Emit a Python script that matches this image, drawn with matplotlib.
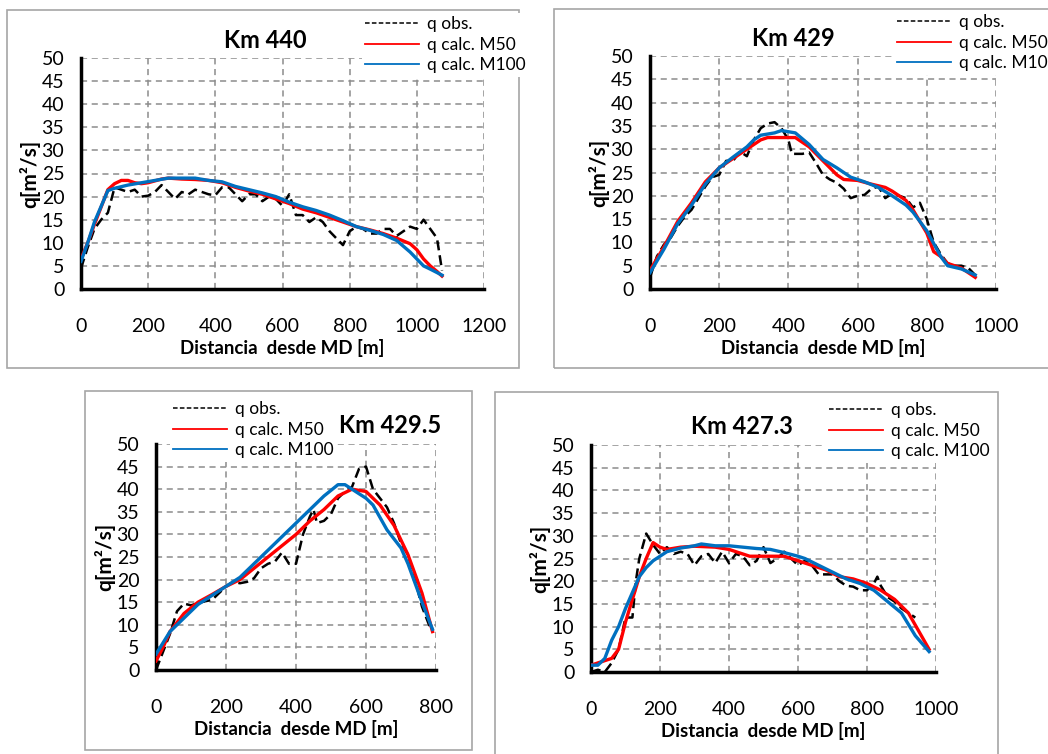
import numpy as np
import matplotlib.pyplot as plt
from matplotlib.lines import Line2D
from matplotlib.patches import Rectangle

plt.rcParams['font.family'] = ['Lato', 'DejaVu Sans']

# --- Km 440 ---
x440_obs = [0, 20, 40, 60, 80, 100, 120, 140, 160, 180, 200, 220, 240, 260, 280, 300, 320, 340,
            360, 380, 400, 420, 440, 460, 480, 500, 520, 540, 560, 580, 600, 620, 640, 660, 680,
            700, 720, 740, 760, 780, 800, 820, 840, 860, 880, 900, 920, 940, 960, 980, 1000, 1020,
            1040, 1060, 1075]
q440_obs = [4.5, 9, 13, 15, 16.5, 22, 21.5, 21, 21.5, 20, 20.2, 21, 22.5, 21, 19.5, 21, 20.5, 21.5,
            21, 20.5, 20.3, 22, 22, 20.5, 19, 20.5, 20.5, 19, 20, 19.5, 18, 20.5, 16, 16, 14.5,
            15.5, 14.5, 12.5, 11, 9.5, 12.5, 13.5, 13, 12, 12, 13, 13, 11.5, 12.5, 13.5, 13, 15,
            13, 11, 4]
x440_m50 = [0, 20, 40, 80, 100, 120, 140, 160, 180, 200, 240, 260, 300, 340, 380, 420, 460, 500,
            540, 580, 620, 660, 700, 740, 780, 820, 860, 900, 940, 980, 1000, 1020, 1040, 1060, 1075]
q440_m50 = [6.5, 10, 14, 21.5, 22.8, 23.5, 23.5, 23, 22.8, 23, 23.8, 24, 23.8, 23.7, 23.5, 23, 22,
            21.2, 20.5, 19.5, 18.5, 17.3, 16.5, 15.5, 14.5, 13.5, 12.8, 12, 11, 9.8, 8.5, 6.5, 5,
            3.8, 2.8]
x440_m100 = [0, 20, 40, 80, 100, 140, 180, 220, 260, 300, 340, 380, 420, 460, 500, 540, 580, 620,
             660, 700, 740, 780, 820, 860, 900, 940, 980, 1000, 1020, 1040, 1075]
q440_m100 = [6, 10, 14.5, 21.3, 21.8, 22.5, 23, 23.5, 24, 24, 24, 23.5, 23.2, 22.2, 21.5, 20.8, 20,
             18.8, 17.8, 17, 16, 14.8, 13.5, 12.7, 11.8, 10.5, 8, 6.5, 5, 4.3, 3]

# --- Km 429 ---
x429_obs = [0, 20, 40, 60, 80, 100, 120, 140, 160, 180, 200, 220, 240, 260, 280, 300, 320, 340,
            360, 380, 400, 410, 440, 460, 480, 500, 520, 540, 560, 580, 600, 620, 640, 660, 680,
            700, 720, 740, 760, 780, 800, 820, 840, 860, 880, 900, 920, 940]
q429_obs = [2.5, 7, 9.5, 11, 13.5, 15.5, 17, 19.5, 22, 24, 24.5, 27.5, 27.5, 29.5, 28.5, 32, 34.5,
            35.5, 35.8, 34.5, 32, 29, 29, 29.3, 27, 24.5, 23.5, 22.8, 21.5, 19.5, 20, 20.2, 21.5,
            22, 19.5, 20.5, 20, 19.5, 17.5, 18.5, 15, 10, 7.5, 5.5, 5, 5, 4.5, 3]
x429_m50 = [0, 40, 80, 120, 160, 200, 240, 280, 320, 340, 400, 420, 460, 500, 540, 560, 600, 640,
            680, 700, 740, 760, 800, 820, 840, 860, 900, 940]
q429_m50 = [4, 9, 14.5, 18.5, 23, 26, 28, 30, 32, 32.5, 32.5, 32.5, 30.5, 27.5, 24.5, 23.5, 23.3,
            22.5, 21.8, 21, 19, 17, 12, 8, 7, 5.5, 4.5, 2.5]
x429_m100 = [0, 40, 80, 120, 160, 200, 240, 280, 300, 320, 360, 380, 420, 460, 500, 540, 580, 620,
             660, 700, 740, 760, 800, 840, 860, 900, 940]
q429_m100 = [3.5, 8.5, 14, 18, 22.5, 26, 28.3, 30.5, 32, 33, 33.5, 34, 33.5, 31, 27.8, 26, 24, 23,
             21.8, 20, 18, 16.5, 12.5, 7, 5, 4.3, 3]

# --- Km 429.5 ---
x4295_obs = [0, 10, 20, 40, 60, 80, 100, 120, 140, 160, 180, 200, 220, 240, 260, 280, 300, 320,
             340, 360, 380, 400, 420, 440, 450, 460, 480, 500, 520, 540, 560, 580, 600, 620, 640,
             660, 680, 700, 720, 740, 760, 780, 790]
q4295_obs = [0, 2, 4, 8, 13, 14.7, 14.3, 14.8, 15.2, 15.5, 17, 18.5, 19.5, 19.2, 19.5, 20.3, 22.5,
             23.5, 24, 26, 23.5, 23.5, 30, 34, 35.5, 32.5, 33, 34.5, 38, 39.5, 40.5, 44.5, 45, 40,
             38, 36, 32.5, 28, 25.5, 20, 14, 10, 9]
x4295_m50 = [0, 20, 40, 80, 120, 160, 200, 240, 280, 320, 360, 400, 440, 480, 520, 560, 600, 640,
             680, 720, 760, 790]
q4295_m50 = [2, 5, 8.5, 12.5, 15, 16.7, 18.5, 20, 22.5, 25, 27.5, 30, 33, 35.5, 38.5, 40, 39.5,
             36.5, 32, 25.5, 17, 8.5]
x4295_m100 = [0, 20, 40, 80, 120, 160, 200, 240, 280, 320, 360, 400, 440, 480, 520, 540, 560, 600,
              620, 660, 700, 720, 760, 790]
q4295_m100 = [3.5, 6, 8.5, 11.5, 14.5, 16.5, 18.5, 20.5, 23.5, 26.5, 29.5, 32.5, 35.5, 38.5, 41,
              41, 40, 38, 36.5, 31, 27, 23.5, 15, 9]

# --- Km 427.3 ---
x4273_obs = [0, 20, 40, 60, 80, 100, 120, 130, 140, 160, 180, 200, 220, 240, 260, 280, 300, 320,
             340, 360, 380, 400, 420, 440, 460, 480, 500, 520, 540, 560, 580, 600, 620, 640, 660,
             680, 700, 720, 740, 760, 780, 800, 820, 830, 840, 860, 880, 900, 920, 940]
q4273_obs = [0, 0.5, 0, 2, 5, 12, 12, 20, 25, 30.5, 28, 26, 27.5, 26, 26.5, 26, 23.5, 25.5, 26, 24,
             26.5, 24, 26, 25.5, 23.5, 24.5, 27.5, 24, 25, 26.5, 25, 23.5, 24.5, 23.5, 21.5, 21.5,
             21.5, 20, 19, 18.8, 18, 18, 19.5, 21, 19, 16.5, 15.5, 14, 13, 12]
x4273_m50 = [0, 20, 40, 60, 80, 100, 120, 140, 160, 180, 200, 220, 260, 300, 360, 400, 440, 460,
             500, 560, 600, 640, 680, 720, 760, 800, 840, 880, 920, 980]
q4273_m50 = [1.5, 2, 2.5, 3, 5, 11, 16, 21, 25, 28.5, 27.5, 27, 27.5, 27.7, 27.5, 27, 26, 25.5,
             25.5, 25.5, 24.5, 23.5, 22.5, 21, 20.5, 19.5, 18, 16, 13, 5]
x4273_m100 = [0, 20, 40, 60, 80, 100, 120, 140, 160, 180, 200, 220, 260, 300, 320, 360, 400, 440,
              480, 520, 560, 600, 620, 660, 700, 740, 780, 820, 860, 900, 920, 940, 980]
q4273_m100 = [1.5, 1.5, 3, 7, 10, 14, 17.5, 21, 23, 24.5, 25.5, 26.5, 27.3, 27.8, 28.2, 27.8, 27.8,
              27.5, 27.2, 27, 26.3, 25.5, 25, 23.5, 22, 20.5, 19.5, 18, 15.5, 13, 10.5, 8, 4.5]

W, H = 1048, 754
fig = plt.figure(figsize=(W / 100, H / 100), dpi=100)


def px_rect(l, t, r, b):
    return [l / W, 1 - b / H, (r - l) / W, (b - t) / H]


def panel(box, frame, series, xmax, xstep, title, title_xy, leg_xy):
    # marco gris del grafico
    fl, ft, fr, fb = frame
    fig.patches.append(Rectangle((fl / W, 1 - fb / H), (fr - fl) / W, (fb - ft) / H,
                                 transform=fig.transFigure, fill=False,
                                 edgecolor='#a6a6a6', lw=1.2, zorder=0))
    ax = fig.add_axes(px_rect(*box))
    (xo, yo), (x5, y5), (x1, y1) = series
    ax.plot(xo, yo, color='black', lw=1.8, ls=(0, (4, 2)), zorder=3)
    ax.plot(x5, y5, color='#ff0000', lw=2.4, zorder=4)
    ax.plot(x1, y1, color='#0070c0', lw=2.4, zorder=5)
    ax.set_xlim(0, xmax)
    ax.set_ylim(0, 50)
    ax.set_xticks(np.arange(0, xmax + 1, xstep))
    ax.set_yticks(np.arange(0, 51, 5))
    ax.grid(True, color='#8c8c8c', ls=(0, (4, 3)), lw=1.1)
    ax.set_axisbelow(True)
    for s in ['top', 'right']:
        ax.spines[s].set_visible(False)
    for s in ['left', 'bottom']:
        ax.spines[s].set_linewidth(2.5)
    ax.tick_params(length=0, labelsize=14)
    ax.tick_params(axis='x', pad=21)
    ax.tick_params(axis='y', pad=12)
    ax.set_xlabel('Distancia  desde MD [m]', fontsize=13.5, fontweight='bold', labelpad=3)
    ax.set_ylabel('q[m²/s]', fontsize=15, fontweight='bold', labelpad=1)
    fig.text(title_xy[0] / W, 1 - title_xy[1] / H, title, fontsize=17, fontweight='bold',
             ha='center', va='center')
    handles = [Line2D([], [], color='black', lw=1.1, ls=(0, (3, 1.5))),
               Line2D([], [], color='#ff0000', lw=1.3),
               Line2D([], [], color='#0070c0', lw=1.3)]
    leg = fig.legend(handles, ['q obs.', 'q calc. M50', 'q calc. M100'],
                     loc='upper left', bbox_to_anchor=(leg_xy[0] / W, 1 - leg_xy[1] / H),
                     fontsize=12.5, frameon=True, facecolor='white', edgecolor='none',
                     framealpha=1, fancybox=False, handlelength=3.1, handletextpad=0.45,
                     labelspacing=0.25, borderpad=0.2, borderaxespad=0)
    leg.set_zorder(10)
    return ax


panel((81, 58, 484, 289), (7, 10, 519, 368),
      ((x440_obs, q440_obs), (x440_m50, q440_m50), (x440_m100, q440_m100)),
      1200, 200, 'Km 440', (265, 40), (362, 13))
panel((650, 56, 996, 289), (554, 9, 1052, 368),
      ((x429_obs, q429_obs), (x429_m50, q429_m50), (x429_m100, q429_m100)),
      1000, 200, 'Km 429', (793, 38), (894, 11))
panel((156, 444, 436, 670), (85, 391, 472, 750),
      ((x4295_obs, q4295_obs), (x4295_m50, q4295_m50), (x4295_m100, q4295_m100)),
      800, 200, 'Km 429.5', (390, 425), (170, 398))
panel((591, 445, 936, 672), (495, 392, 998, 758),
      ((x4273_obs, q4273_obs), (x4273_m50, q4273_m50), (x4273_m100, q4273_m100)),
      1000, 200, 'Km 427.3', (742, 426), (826, 399))

fig.savefig('out.png', dpi=100, facecolor='white')
